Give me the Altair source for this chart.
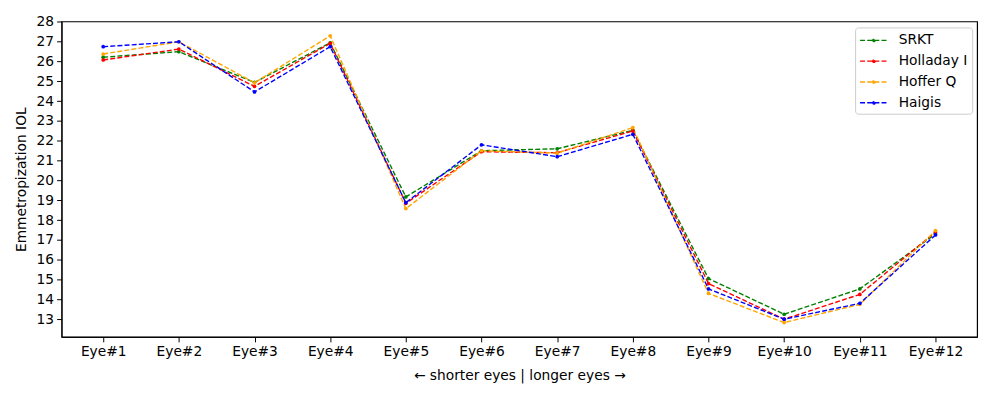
import altair as alt
import pandas as pd

eyes = [f"Eye#{i}" for i in range(1, 13)]
series_names = ["SRKT", "Holladay I", "Hoffer Q", "Haigis"]
series_colors = ["#008000", "#ff0000", "#ffa500", "#0000ff"]

srkt = [26.22, 26.5, 24.95, 26.95, 19.17, 21.5, 21.6, 22.53, 15.05, 13.25, 14.53, 17.3]
holladay = [26.08, 26.63, 24.75, 26.92, 18.85, 21.45, 21.4, 22.5, 14.8, 13.0, 14.25, 17.4]
hoffer = [26.38, 27.0, 24.93, 27.3, 18.58, 21.5, 21.38, 22.67, 14.3, 12.83, 13.75, 17.47]
haigis = [26.75, 27.0, 24.47, 26.75, 18.88, 21.8, 21.2, 22.33, 14.53, 13.0, 13.8, 17.25]

y_ticks = list(range(13, 29))

rows = []
for k, (name, vals) in enumerate(zip(series_names, [srkt, holladay, hoffer, haigis])):
    for i, (e, v) in enumerate(zip(eyes, vals)):
        rows.append({"eye": e, "value": v, "series": name, "ord": k})
df = pd.DataFrame(rows)

FONT = "DejaVu Sans"
FS = 13.9
x_title = "\u2190 shorter eyes | longer eyes \u2192"

# legend glyph: dashed line with a dot in its middle (unit coords, r = 8px)
legend_path = ("M-1,0H2.5M0.9,0A0.15,0.15 0 1 1 0.6,0A0.15,0.15 0 1 1 0.9,0")

x_enc = alt.X("eye:N", sort=eyes,
              scale=alt.Scale(type="point", padding=0.55),
              axis=alt.Axis(title=x_title, labelAngle=0, titlePadding=10))
y_enc = alt.Y("value:Q",
              scale=alt.Scale(domain=[12.1065, 28.0235], nice=False, zero=False),
              axis=alt.Axis(title="Emmetropization IOL", values=y_ticks, titlePadding=8))
color_enc = alt.Color("series:N",
                      scale=alt.Scale(domain=series_names, range=series_colors),
                      legend=alt.Legend(title=None, orient="none", legendX=800, legendY=6,
                                        symbolType=legend_path, symbolDash=[5, 2.2],
                                        symbolStrokeWidth=1.4, symbolSize=256,
                                        labelFontSize=FS, labelFont=FONT,
                                        rowPadding=5, padding=4,
                                        strokeColor="#cccccc", fillColor="white",
                                        cornerRadius=3, labelOffset=22))

base = alt.Chart(df)
lines = base.mark_line(strokeDash=[5, 2.2], strokeWidth=1.4).encode(
    x=x_enc, y=y_enc, color=color_enc, order="ord:Q", detail="series:N")
points = base.mark_circle(size=14, opacity=1).encode(
    x=x_enc, y=y_enc, color=alt.Color("series:N",
                                      scale=alt.Scale(domain=series_names, range=series_colors),
                                      legend=None))

chart = alt.layer(lines, points).properties(
    width=923, height=318,
    autosize=alt.AutoSizeParams(type="none"),
    padding={"left": 54, "top": 12, "right": 15, "bottom": 60},
).configure_view(stroke="black", strokeWidth=1.2).configure_axis(
    labelFont=FONT, titleFont=FONT, labelFontSize=FS, titleFontSize=FS,
    titleFontWeight="normal", labelColor="black", titleColor="black",
    domainColor="black", tickColor="black", tickSize=5, grid=False, labelPadding=3,
).configure_legend(labelColor="black")

chart.save("out.html", embed_options={"renderer": "svg", "actions": False})
